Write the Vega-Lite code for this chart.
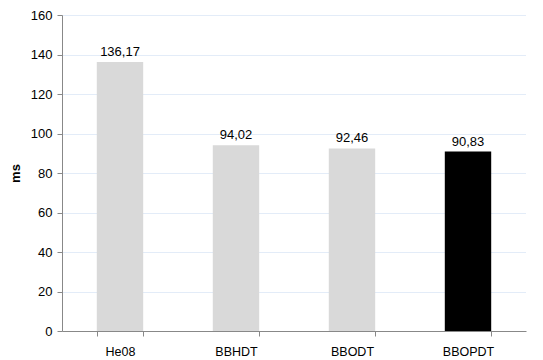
{
  "$schema": "https://vega.github.io/schema/vega-lite/v6.json",
  "width": 464,
  "height": 316,
  "autosize": "none",
  "padding": {"left": 62, "top": 15, "right": 17, "bottom": 29},
  "background": "white",
  "config": {
    "view": {"stroke": null},
    "font": "Liberation Sans",
    "locale": {"number": {"decimal": ",", "thousands": ".", "grouping": [3], "currency": ["", ""]}}
  },
  "data": {"values": [
    {"method": "He08", "ms": 136.17, "kind": "other"},
    {"method": "BBHDT", "ms": 94.02, "kind": "other"},
    {"method": "BBODT", "ms": 92.46, "kind": "other"},
    {"method": "BBOPDT", "ms": 90.83, "kind": "ours"}
  ]},
  "encoding": {
    "x": {"field": "method", "type": "nominal", "sort": null,
      "scale": {"paddingInner": 0.6, "paddingOuter": 0.3},
      "axis": {"title": null, "labelAngle": 0, "labelFontSize": 12.5, "labelColor": "#000", "labelPadding": 9,
        "domainColor": "#888", "tickColor": "#888", "tickSize": 5, "tickBand": "extent", "grid": false}},
    "y": {"field": "ms", "type": "quantitative",
      "scale": {"domain": [0, 160], "nice": false},
      "axis": {"title": "ms", "titleFontSize": 13, "titleFontWeight": "bold", "titleColor": "#000", "titlePadding": 8,
        "values": [0, 20, 40, 60, 80, 100, 120, 140, 160], "labelFontSize": 13, "labelColor": "#000", "labelPadding": 5,
        "domainColor": "#888", "tickColor": "#888", "tickSize": 5,
        "gridColor": "#c6d9f1", "gridDash": [1, 1], "gridWidth": 1}}
  },
  "layer": [
    {"mark": {"type": "bar"},
     "encoding": {"color": {"field": "kind", "type": "nominal",
       "scale": {"domain": ["other", "ours"], "range": ["#d9d9d9", "#000000"]}, "legend": null}}},
    {"mark": {"type": "text", "dy": -10, "fontSize": 13, "color": "#000"},
     "encoding": {"text": {"field": "ms", "type": "quantitative", "format": ".2f"}}}
  ]
}
